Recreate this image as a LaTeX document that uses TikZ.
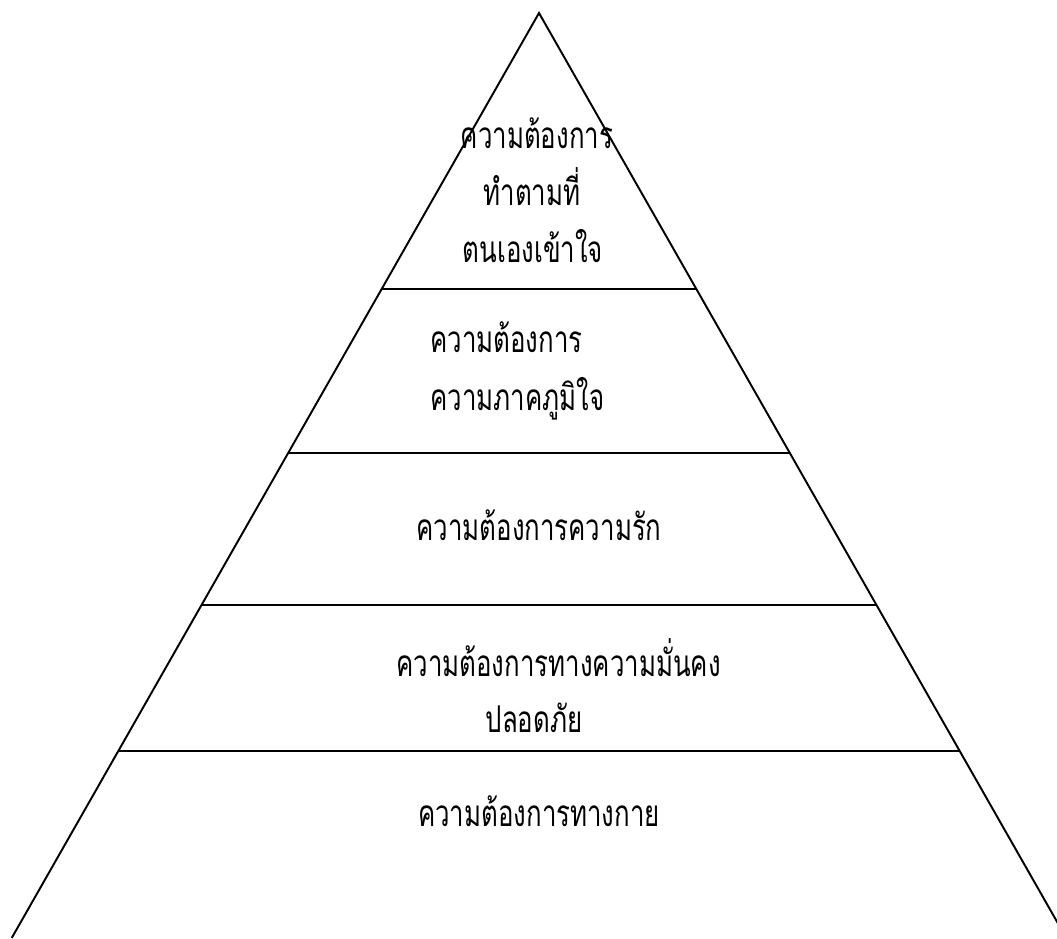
\documentclass[tikz,border=0pt]{standalone}
\usepackage{fontspec}
\newfontfamily\thaifont[Script=Thai,FakeStretch=0.70]{Loma}
\usepackage{tikz}
\usetikzlibrary{calc}

\tikzset{
  nivel/.style={font=\thaifont\fontsize{21}{24}\selectfont,inner sep=0pt,anchor=base},
  borde/.style={line width=1.1pt,black},
}

\begin{document}
\begin{tikzpicture}[x=0.02cm,y=-0.02cm]

\useasboundingbox (0,0) rectangle (1057,938);
\clip (0,0) rectangle (1057,938);

% Triángulo
\coordinate (cima) at (539,13);
\coordinate (bizq) at (11.7,938);
\coordinate (bder) at (1066.3,938);
\draw[borde] (bizq) -- (cima) -- (bder);

% Separadores
\foreach \t/\n in {0.2987/a,0.4760/b,0.6400/c,0.7975/d}{
  \coordinate (i\n) at ($(cima)!\t!(bizq)$);
  \coordinate (d\n) at ($(cima)!\t!(bder)$);
  \draw[borde] (i\n) -- (d\n);
}

% Textos
\node[nivel] (t1a) at (537,148) {ความต้องการ};
\node[nivel] (t1b) at (532,205) {ทำตามที่};
\node[nivel] (t1c) at (533,262) {ตนเองเข้าใจ};

\node[nivel,anchor=base west] (t2a) at (430,352) {ความต้องการ};
\node[nivel,anchor=base west] (t2b) at (430,410) {ความภาคภูมิใจ};

\node[nivel] (t3) at (539,540) {ความต้องการความรัก};

\node[nivel,anchor=base west] (t4a) at (396,676) {ความต้องการทางความมั่นคง};
\node[nivel] (t4b) at (534,732) {ปลอดภัย};

\node[nivel] (t5) at (539,826) {ความต้องการทางกาย};

\end{tikzpicture}
\end{document}
